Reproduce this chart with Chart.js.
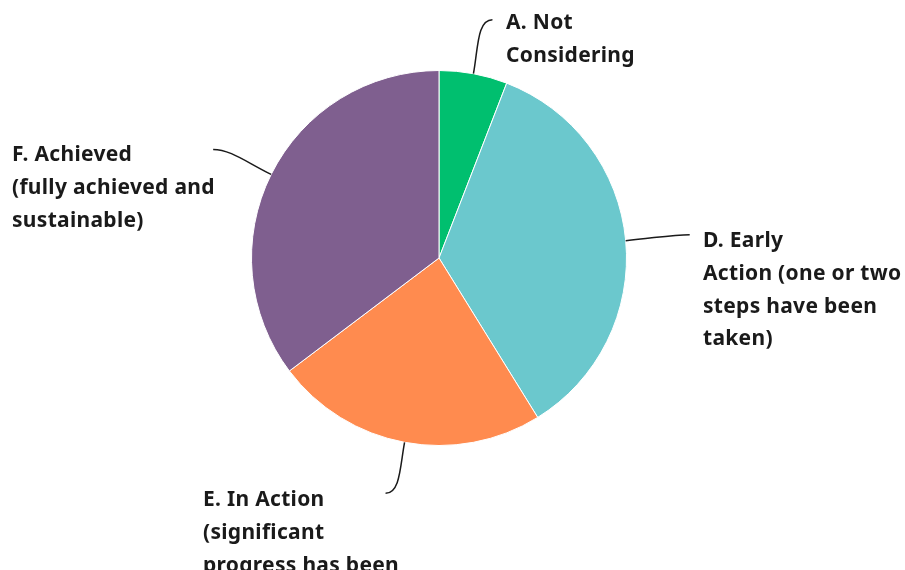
<!DOCTYPE html>
<html>
<head>
<meta charset="utf-8">
<script src="https://cdn.jsdelivr.net/npm/chart.js@4/dist/chart.umd.min.js"></script>
<style>
  html, body { margin: 0; padding: 0; background: #fff; }
  #wrap { width: 905px; height: 570px; }
</style>
</head>
<body>
<div id="wrap"><canvas id="pieChart" width="905" height="570"></canvas></div>
<script>
// answer categories, clockwise from 12 o'clock
const categories = [
  ["A. Not", "Considering"],
  ["D. Early", "Action (one or two", "steps have been", "taken)"],
  ["E. In Action", "(significant", "progress has been", "made)"],
  ["F. Achieved", "(fully achieved and", "sustainable)"],
];
// share of responses, %
const shares = [5.88, 35.29, 23.53, 35.29];
const sliceColors = ["#00BF6F", "#6BC8CD", "#FF8B4F", "#7F5F8F"];

// where each callout ends (offset from the slice edge) and where its text sits
const calloutLayout = [
  { end: [19, -54], text: [506, 23] },
  { end: [64, -6], text: [703, 241] },
  { end: [-19, 51], text: [203, 500] },
  { end: [-58, -25], text: [12, 155] },
];

const LINE_H = 32.8;
const FONT = "bold 21px 'Noto Sans', sans-serif";

// draws the leader lines and wrapped labels
const calloutPlugin = {
  id: "callouts",
  afterDraw(chart) {
    const ctx = chart.ctx;
    const arcs = chart.getDatasetMeta(0).data;
    ctx.save();
    ctx.strokeStyle = "#1a1a1a";
    ctx.lineWidth = 1.5;
    ctx.fillStyle = "#1a1a1a";
    ctx.font = FONT;
    ctx.letterSpacing = "0.3px";
    ctx.textBaseline = "middle";
    ctx.textAlign = "left";
    arcs.forEach((arc, i) => {
      const p = arc.getProps(["x", "y", "startAngle", "endAngle", "outerRadius"], true);
      const mid = (p.startAngle + p.endAngle) / 2;
      const ux = Math.cos(mid), uy = Math.sin(mid);
      const x0 = p.x + ux * p.outerRadius;
      const y0 = p.y + uy * p.outerRadius;
      const lay = calloutLayout[i];
      const x3 = x0 + lay.end[0];
      const y3 = y0 + lay.end[1];
      const dir = lay.end[0] >= 0 ? 1 : -1;
      const k = Math.hypot(lay.end[0], lay.end[1]) * 0.45;
      ctx.beginPath();
      ctx.moveTo(x0, y0);
      ctx.bezierCurveTo(x0 + ux * k, y0 + uy * k, x3 - dir * k * 0.6, y3, x3, y3);
      ctx.stroke();
      categories[i].forEach((line, j) => {
        ctx.fillText(line, lay.text[0], lay.text[1] + j * LINE_H);
      });
    });
    ctx.restore();
  },
};

window.addEventListener("load", () => {
  const ctx = document.getElementById("pieChart").getContext("2d");
  new Chart(ctx, {
    type: "pie",
    data: {
      labels: categories.map((c) => c.join(" ")),
      datasets: [
        {
          data: shares,
          backgroundColor: sliceColors,
          borderColor: "#ffffff",
          borderWidth: 1,
          hoverOffset: 0,
        },
      ],
    },
    options: {
      responsive: false,
      animation: false,
      layout: { padding: { left: 251, right: 278, top: 70, bottom: 124 } },
      plugins: {
        legend: { display: false },
        tooltip: { enabled: false },
      },
    },
    plugins: [calloutPlugin],
  });
});
</script>
</body>
</html>
